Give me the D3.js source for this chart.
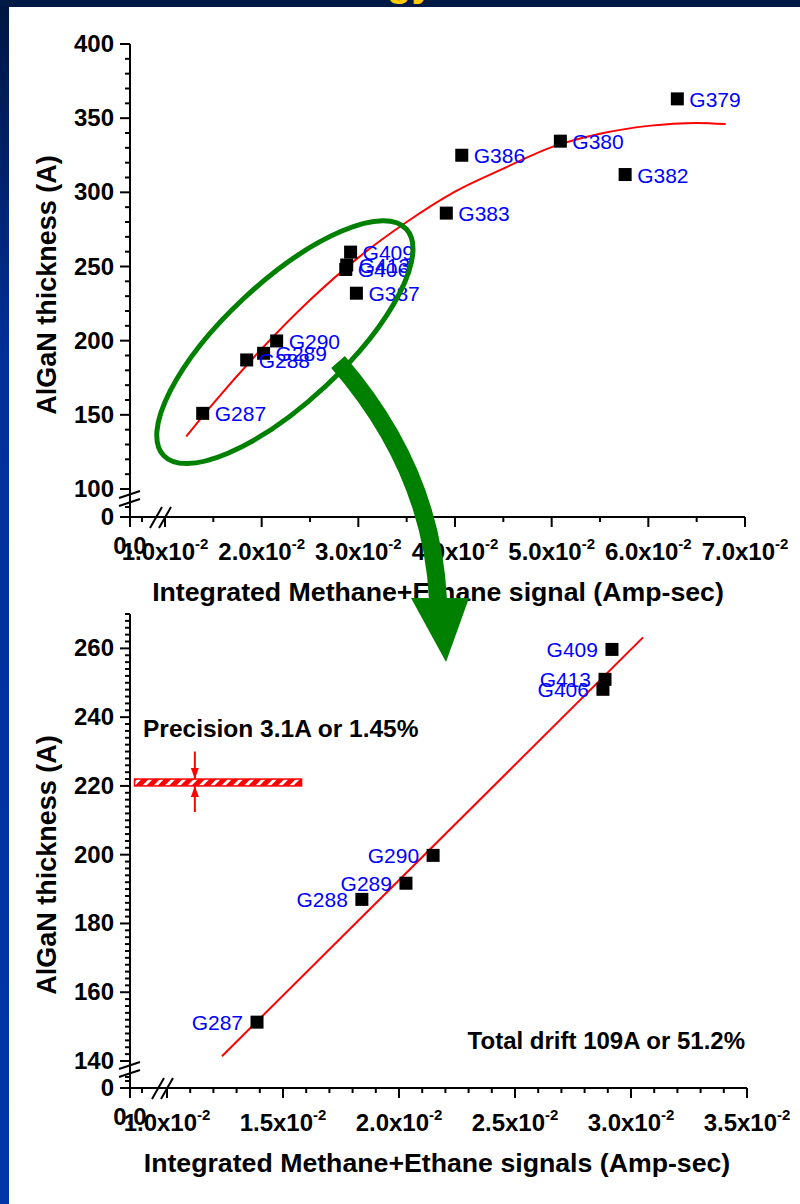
<!DOCTYPE html>
<html><head><meta charset="utf-8">
<script src="https://cdn.jsdelivr.net/npm/d3@7"></script>
<style>
body{margin:0;background:#fff;}
svg{display:block;font-family:"Liberation Sans",Arial,Helvetica,sans-serif;}
</style>
</head><body>
<svg id="c" width="800" height="1204"></svg>
<script>
// ---------- data ----------
const topSamples = ["G379","G380","G386","G382","G383","G409","G413","G406","G387","G290","G289","G288","G287"];
const topSignal  = [6.30, 5.09, 4.07, 5.76, 3.91, 2.92, 2.88, 2.87, 2.98, 2.155, 2.02, 1.845, 1.39]; // x10^-2 Amp-sec
const topThick   = [363, 334.5, 325, 312, 286, 259.7, 251, 248, 232, 199.8, 191.5, 187, 151];
const topFitX    = [1.22, 1.5, 2, 2.5, 3, 3.5, 4, 4.5, 5, 5.5, 6, 6.5, 6.8];
const topFitY    = [135.4, 157.7, 194.5, 227.4, 256, 280, 300.5, 316, 330.5, 339.5, 344.8, 346.8, 346];
const topXTicks  = [1, 2, 3, 4, 5, 6, 7];
const topXLabels = ["1.0", "2.0", "3.0", "4.0", "5.0", "6.0", "7.0"];
const topYTicks  = [100, 150, 200, 250, 300, 350, 400];

const botSamples = ["G409","G413","G406","G290","G289","G288","G287"];
const botSignal  = [2.918, 2.888, 2.879, 2.147, 2.03, 1.84, 1.388];
const botThick   = [259.7, 251, 248.1, 199.8, 191.7, 187, 151.3];
const botFitX    = [1.237, 3.052];
const botFitY    = [141.4, 263.2];
const botXTicks  = [1.0, 1.5, 2.0, 2.5, 3.0, 3.5];
const botXLabels = ["1.0", "1.5", "2.0", "2.5", "3.0", "3.5"];
const botYTicks  = [140, 160, 180, 200, 220, 240, 260];
const precisionBarX = [0.86, 1.58];
const precisionBarY = [220, 222];
const precisionArrowX = 1.12;
const precisionArrowFrom = [230, 212.4];

const svg = d3.select("#c");
const FONT = "'Liberation Sans',Arial,sans-serif";

// ---------- slide background ----------
const defs = svg.append("defs");
const lg = defs.append("linearGradient").attr("id","side").attr("x1",0).attr("y1",0).attr("x2",0).attr("y2",1);
lg.append("stop").attr("offset","0").attr("stop-color","#001640");
lg.append("stop").attr("offset","0.3").attr("stop-color","#00309a");
lg.append("stop").attr("offset","1").attr("stop-color","#0036a8");
const hp = defs.append("pattern").attr("id","hatch").attr("patternUnits","userSpaceOnUse")
  .attr("width",8).attr("height",8).attr("patternTransform","rotate(45)");
hp.append("rect").attr("width",8).attr("height",8).attr("fill","#ff0000");
hp.append("rect").attr("x",0).attr("width",3).attr("height",8).attr("fill","#ffffff");

svg.append("rect").attr("x",0).attr("y",0).attr("width",800).attr("height",1204).attr("fill","url(#side)");
svg.append("rect").attr("x",0).attr("y",0).attr("width",800).attr("height",7).attr("fill","#001a45");
svg.append("text").attr("x",387).attr("y",-4).attr("font-size",40).attr("font-weight","bold")
  .attr("fill","#ffcc00").attr("font-family",FONT).text("gy");
svg.append("rect").attr("x",9).attr("y",7).attr("width",791).attr("height",1197).attr("fill","#ffffff");

// ---------- helpers ----------
function drawAxes(g, cfg) {
  const {x, y, x0px, y0px, xMinor, yMinor, xTicks, xLabels, yTicks, xBreak, yBreak, xLowMinor, yLowMinor} = cfg;
  const ax = g.append("g").attr("stroke","#000").attr("stroke-width",2);
  const xEnd = x(xTicks[xTicks.length-1]);
  const yTop = y(cfg.yMax);
  ax.append("line").attr("x1",x0px).attr("x2",xEnd).attr("y1",y0px).attr("y2",y0px);
  ax.append("line").attr("x1",x0px).attr("x2",x0px).attr("y1",y0px).attr("y2",yTop);
  ax.selectAll(".xmaj").data(xTicks).join("line").attr("x1",d=>x(d)).attr("x2",d=>x(d)).attr("y1",y0px).attr("y2",y0px+10);
  ax.selectAll(".xmin").data(xMinor).join("line").attr("x1",d=>x(d)).attr("x2",d=>x(d)).attr("y1",y0px).attr("y2",y0px+5);
  ax.append("line").attr("x1",x0px).attr("x2",x0px).attr("y1",y0px).attr("y2",y0px+10);
  xLowMinor.forEach(px => ax.append("line").attr("x1",px).attr("x2",px).attr("y1",y0px).attr("y2",y0px+5));
  ax.selectAll(".ymaj").data(yTicks).join("line").attr("y1",d=>y(d)).attr("y2",d=>y(d)).attr("x1",x0px).attr("x2",x0px-10);
  ax.selectAll(".ymin").data(yMinor).join("line").attr("y1",d=>y(d)).attr("y2",d=>y(d)).attr("x1",x0px).attr("x2",x0px-5);
  ax.append("line").attr("y1",y0px).attr("y2",y0px).attr("x1",x0px).attr("x2",x0px-10);
  yLowMinor.forEach(py => ax.append("line").attr("y1",py).attr("y2",py).attr("x1",x0px).attr("x2",x0px-5));
  const bk = g.append("g").attr("stroke","#000").attr("stroke-width",2);
  xBreak.forEach(b => bk.append("line").attr("x1",b).attr("y1",y0px+11).attr("x2",b+12).attr("y2",y0px-10));
  yBreak.forEach(b => bk.append("line").attr("x1",x0px-11).attr("y1",b+3).attr("x2",x0px+10).attr("y2",b-4));
  const tl = g.append("g").attr("font-family",FONT).attr("font-weight","bold").attr("font-size",24).attr("fill","#000");
  tl.selectAll(".yl").data(yTicks).join("text").attr("x",x0px-16).attr("y",d=>y(d)+8).attr("text-anchor","end").text(d=>d);
  tl.append("text").attr("x",x0px-16).attr("y",y0px+8).attr("text-anchor","end").text("0");
  tl.append("text").attr("x",x0px).attr("y",y0px+37).attr("text-anchor","middle").text("0.0");
  xTicks.forEach((d,i) => {
    const t = tl.append("text").attr("x",x(d)).attr("y",y0px+43).attr("text-anchor","middle");
    t.append("tspan").text(xLabels[i]+"x10");
    t.append("tspan").attr("dy",-11).attr("font-size",15).text("-2");
  });
}

function range(a, b, s) { const r=[]; for (let v=a; v<=b+1e-9; v+=s) r.push(+v.toFixed(4)); return r; }

// ---------- TOP CHART ----------
const gT = svg.append("g");
const xT = d3.scaleLinear().domain([1, 7]).range([165, 745]);
const yT = d3.scaleLinear().domain([100, 400]).range([489, 44]);
drawAxes(gT, {
  x: xT, y: yT, x0px: 130, y0px: 517, yMax: 400,
  xTicks: topXTicks, xLabels: topXLabels, yTicks: topYTicks,
  xMinor: range(1.5, 6.5, 1),
  yMinor: range(100, 400, 10).filter(v => v % 50 !== 0),
  xBreak: [150, 159], yBreak: [495, 503], xLowMinor: [142], yLowMinor: [507]
});
gT.append("path").datum(topFitX.map((v,i)=>[v, topFitY[i]]))
  .attr("d", d3.line().x(d=>xT(d[0])).y(d=>yT(d[1])).curve(d3.curveMonotoneX))
  .attr("fill","none").attr("stroke","#ff0000").attr("stroke-width",2);
const topPts = topSamples.map((s,i)=>({s, x: topSignal[i], y: topThick[i]}));
gT.selectAll(".tp").data(topPts).join("rect")
  .attr("x", d=>xT(d.x)-6.5).attr("y", d=>yT(d.y)-6.5).attr("width",13).attr("height",13).attr("fill","#000");
gT.selectAll(".tl").data(topPts).join("text")
  .attr("x", d=>xT(d.x)+12).attr("y", d=>yT(d.y)+8)
  .attr("font-family",FONT).attr("font-size",21).attr("fill","#0000ff").text(d=>d.s);
gT.append("text").attr("transform","translate(56,285) rotate(-90)").attr("text-anchor","middle")
  .attr("font-family",FONT).attr("font-weight","bold").attr("font-size",27).text("AlGaN thickness (A)");
gT.append("text").attr("x",438).attr("y",601).attr("text-anchor","middle")
  .attr("font-family",FONT).attr("font-weight","bold").attr("font-size",26.7).text("Integrated Methane+Ethane signal (Amp-sec)");

// ---------- BOTTOM CHART ----------
const gB = svg.append("g");
const xB = d3.scaleLinear().domain([1, 3.5]).range([167, 747]);
const yB = d3.scaleLinear().domain([140, 270]).range([1061, 614]);
drawAxes(gB, {
  x: xB, y: yB, x0px: 130, y0px: 1088, yMax: 270,
  xTicks: botXTicks, xLabels: botXLabels, yTicks: botYTicks,
  xMinor: range(1.1, 3.4, 0.1).filter(v => Math.abs(v*2 - Math.round(v*2)) > 1e-6),
  yMinor: range(140, 270, 2).filter(v => v % 20 !== 0),
  xBreak: [152, 161], yBreak: [1066, 1074], xLowMinor: [142], yLowMinor: [1081, 1077]
});
gB.append("path").datum(botFitX.map((v,i)=>[v, botFitY[i]]))
  .attr("d", d3.line().x(d=>xB(d[0])).y(d=>yB(d[1])))
  .attr("fill","none").attr("stroke","#ff0000").attr("stroke-width",2);
const botPts = botSamples.map((s,i)=>({s, x: botSignal[i], y: botThick[i]}));
gB.selectAll(".bp").data(botPts).join("rect")
  .attr("x", d=>xB(d.x)-6.5).attr("y", d=>yB(d.y)-6.5).attr("width",13).attr("height",13).attr("fill","#000");
gB.selectAll(".bl").data(botPts).join("text")
  .attr("x", d=>xB(d.x)-14).attr("y", d=>yB(d.y)+8).attr("text-anchor","end")
  .attr("font-family",FONT).attr("font-size",21).attr("fill","#0000ff").text(d=>d.s);
gB.append("rect").attr("x",xB(precisionBarX[0])).attr("y",yB(precisionBarY[1]))
  .attr("width",xB(precisionBarX[1])-xB(precisionBarX[0])).attr("height",yB(precisionBarY[0])-yB(precisionBarY[1]))
  .attr("fill","url(#hatch)").attr("stroke","#ff0000").attr("stroke-width",1.5);
const ax = xB(precisionArrowX);
function arrow(g, x, yFrom, yTo) {
  g.append("line").attr("x1",x).attr("x2",x).attr("y1",yFrom).attr("y2",yTo).attr("stroke","#ff0000").attr("stroke-width",2);
  const dir = yTo > yFrom ? 1 : -1;
  g.append("path").attr("d",`M${x-4},${yTo-dir*11} L${x+4},${yTo-dir*11} L${x},${yTo} Z`).attr("fill","#ff0000");
}
arrow(gB, ax, yB(precisionArrowFrom[0]), yB(precisionBarY[1]));
arrow(gB, ax, yB(precisionArrowFrom[1]), yB(precisionBarY[0]));
gB.append("text").attr("x",143).attr("y",737).attr("font-family",FONT).attr("font-weight","bold")
  .attr("font-size",24.5).text("Precision 3.1A or 1.45%");
gB.append("text").attr("x",745).attr("y",1049).attr("text-anchor","end").attr("font-family",FONT).attr("font-weight","bold")
  .attr("font-size",24).text("Total drift 109A or 51.2%");
gB.append("text").attr("transform","translate(56,865) rotate(-90)").attr("text-anchor","middle")
  .attr("font-family",FONT).attr("font-weight","bold").attr("font-size",27).text("AlGaN thickness (A)");
gB.append("text").attr("x",437).attr("y",1172).attr("text-anchor","middle")
  .attr("font-family",FONT).attr("font-weight","bold").attr("font-size",26.7).text("Integrated Methane+Ethane signals (Amp-sec)");

// ---------- green highlight ellipse & arrow ----------
const ellC = [2.24, 199];
svg.append("ellipse").attr("transform",`translate(${xT(ellC[0])},${yT(ellC[1])}) rotate(-43)`)
  .attr("rx",166).attr("ry",60).attr("fill","none").attr("stroke","#008000").attr("stroke-width",5);
svg.append("path").attr("d","M338,362 Q432,470 438,600").attr("fill","none").attr("stroke","#008000").attr("stroke-width",18);
svg.append("path").attr("d","M411,598 L469,598 L446,662 Z").attr("fill","#008000");
</script>
</body></html>
